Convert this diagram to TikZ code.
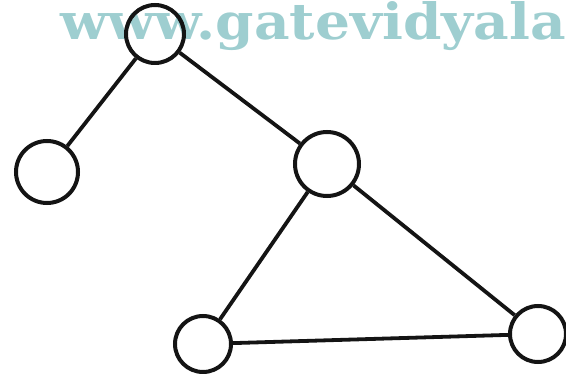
\documentclass[tikz,border=0pt]{standalone}
\usepackage{fontspec}
\newfontfamily\markfont{DejaVu Serif}
\usetikzlibrary{positioning}
\definecolor{markteal}{RGB}{158,206,208}
\definecolor{ink}{RGB}{20,20,20}
\begin{document}
\begin{tikzpicture}[
  x=1pt,y=-1pt,
  vertex/.style={circle,draw=ink,line width=4pt,minimum size=58pt,inner sep=0pt},
  edge/.style={draw=ink,line width=3.8pt},
]
\useasboundingbox (0,0) rectangle (566,374);
\clip (0,0) rectangle (566,374);
% ---- watermark ----
\node[anchor=base west,inner sep=0pt,text=markteal,font=\markfont\bfseries\fontsize{50}{50}\selectfont] (mark) at (60,40) {\scalebox{1.1}[1]{www.gatevidyala}};
% ---- vertices ----
\node[vertex] (root)  at (155,34)  {};
\node[vertex,minimum size=62pt] (left)  at (47,172)  {};
\node[vertex,minimum size=64pt] (mid)   at (327,164) {};
\node[vertex,minimum size=56pt] (botl)  at (203,344) {};
\node[vertex,minimum size=56pt] (botr)  at (538,334) {};
% ---- edges ----
\draw[edge] (root) -- (left);
\draw[edge] (root) -- (mid);
\draw[edge] (mid) -- (botl);
\draw[edge] (mid) -- (botr);
\draw[edge] (botl) -- (botr);
\end{tikzpicture}
\end{document}
